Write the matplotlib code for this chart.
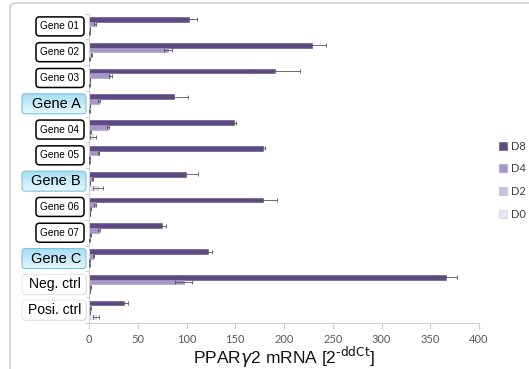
import matplotlib.pyplot as plt
import numpy as np
from matplotlib.patches import FancyBboxPatch

# data (PPARg2 mRNA, 2^-ddCt)
genes = ["Gene 01", "Gene 02", "Gene 03", "Gene A", "Gene 04", "Gene 05",
         "Gene B", "Gene 06", "Gene 07", "Gene C", "Neg. ctrl", "Posi. ctrl"]
kinds = ["plain", "plain", "plain", "key", "plain", "plain",
         "key", "plain", "plain", "key", "ctrl", "ctrl"]
series = ["D8", "D4", "D2", "D0"]
d8 = [103, 229, 191, 87, 149, 178, 99, 178, 75, 122, 366, 36]
d8_err = [8, 14, 25, 15, 2, 2, 13, 15, 4, 4, 11, 4]
d4 = [6, 81, 22, 10, 19, 10, 3.5, 6, 10.5, 4.5, 97, 1.5]
d4_err = [1, 4, 2, 1, 1, 0.5, 0.5, 1, 1, 0.5, 9, 0.3]
d2 = [1, 3, 1, 1, 1.5, 0.5, 1, 2, 2, 0.5, 2, 1]
d2_err = [0.2, 0.5, 0.2, 0.2, 0.3, 0.1, 0.2, 0.5, 0.5, 0.1, 0.5, 0.2]
d0 = [0.5, 0.5, 0.5, 0.5, 4, 0.5, 9, 1, 0.5, 0.5, 1, 7]
d0_err = [0.1, 0.1, 0.1, 0.1, 3, 0.1, 5, 0.3, 0.1, 0.1, 0.3, 3]
xticks = [0, 50, 100, 150, 200, 250, 300, 350, 400]

colors = ["#5e4a85", "#a797c8", "#cbc1df", "#ebe6f3"]
edges = ["#5e4a85", "#a797c8", "#b9aed3", "#c9c0de"]

W, H = 529, 369
fig = plt.figure(figsize=(W / 100, H / 100), dpi=100)

# overlay in pixel coordinates for frame and label boxes
ov = fig.add_axes([0, 0, 1, 1])
ov.set_xlim(0, W); ov.set_ylim(0, H)
ov.axis("off")
frame = FancyBboxPatch((10, -20), W + 20, H - 3 + 20, boxstyle="round,pad=0,rounding_size=6",
                       fc="white", ec="#c8c8c8", lw=1.0)
ov.add_patch(frame)

ax = fig.add_axes([89 / W, 46 / H, 390 / W, (323 - 13.5) / H])
ax.patch.set_alpha(0)

n = len(genes)
y = np.arange(n)
h = 0.18
vals = [d8, d4, d2, d0]
errs = [d8_err, d4_err, d2_err, d0_err]
for k in range(4):
    pos = y + (k - 1.5) * h
    ax.barh(pos, vals[k], height=h, color=colors[k], edgecolor=edges[k], lw=0.4,
            label=series[k], zorder=2)
    ax.errorbar(vals[k], pos, xerr=errs[k], fmt="none", ecolor="#555555",
                elinewidth=0.6, capsize=1.6, capthick=0.6, zorder=3)

ax.set_xlim(0, 400)
ax.set_ylim(n - 0.5, -0.5)
ax.set_xticks(xticks)
ax.set_xticklabels([str(t) for t in xticks], fontsize=8, color="#595959", family="Lato")
ax.set_yticks(np.arange(-0.5, n, 1.0))
ax.set_yticklabels([])
ax.tick_params(axis="y", length=3, color="#d0d0d0", width=0.8)
ax.tick_params(axis="x", length=4, color="#d0d0d0", width=0.8, pad=4)
for s in ["top", "right"]:
    ax.spines[s].set_visible(False)
ax.spines["left"].set_color("#d0d0d0")
ax.spines["bottom"].set_color("#d0d0d0")
ax.set_xlabel("PPAR$\\gamma$2 mRNA [2$^{\\text{-ddCt}}$]", fontsize=12.5,
              family="Liberation Sans", labelpad=0, color="#111111")

# label boxes to the left of the axis
fig.canvas.draw()
grad = np.linspace(0, 1, 50).reshape(-1, 1)
for i, (g, kind) in enumerate(zip(genes, kinds)):
    yc = ax.transData.transform((0, i))[1]
    if kind == "plain":
        x0, x1, bh = 36, 84, 19
        box = FancyBboxPatch((x0, yc - bh / 2), x1 - x0, bh,
                             boxstyle="round,pad=0,rounding_size=3.5",
                             fc="white", ec="black", lw=1.1, zorder=3)
        ov.add_patch(box)
        ov.text((x0 + x1) / 2, yc, g, ha="center", va="center", fontsize=7.3,
                family="Liberation Sans", zorder=4)
    elif kind == "key":
        x0, x1, bh = 22, 86, 20
        box = FancyBboxPatch((x0, yc - bh / 2), x1 - x0, bh,
                             boxstyle="round,pad=0,rounding_size=3.5",
                             fc="none", ec="#7cc3e0", lw=0.8, zorder=4)
        ov.add_patch(box)
        im = ov.imshow(grad, cmap=plt.matplotlib.colors.LinearSegmentedColormap.from_list(
            "b", ["#e6f8fe", "#a6def3"]), extent=(x0, x1, yc + bh / 2, yc - bh / 2),
            aspect="auto", zorder=3)
        im.set_clip_path(box)
        ov.text(x1 - 5, yc, g, ha="right", va="center", fontsize=10.5,
                family="Liberation Sans", zorder=5)
    else:
        x0, x1, bh = 22, 86, 20
        shadow = FancyBboxPatch((x0 + 0.8, yc - bh / 2 - 0.8), x1 - x0, bh,
                                boxstyle="round,pad=0,rounding_size=3.5",
                                fc="#d8d8d8", ec="none", zorder=2)
        ov.add_patch(shadow)
        box = FancyBboxPatch((x0, yc - bh / 2), x1 - x0, bh,
                             boxstyle="round,pad=0,rounding_size=3.5",
                             fc="white", ec="#e0e0e0", lw=0.6, zorder=3)
        ov.add_patch(box)
        ov.text(x1 - 5, yc, g, ha="right", va="center", fontsize=10,
                family="Liberation Sans", zorder=4)
ov.set_xlim(0, W); ov.set_ylim(0, H)

leg = fig.legend(loc="center left", bbox_to_anchor=(499 / W, 1 - 180 / H), frameon=False,
                 prop={"family": "Lato", "size": 8}, handlelength=0.7, handleheight=0.7,
                 labelspacing=1.05, handletextpad=0.4, borderaxespad=0, borderpad=0)
for t in leg.get_texts():
    t.set_color("#404040")

fig.savefig("out.png", dpi=100)
